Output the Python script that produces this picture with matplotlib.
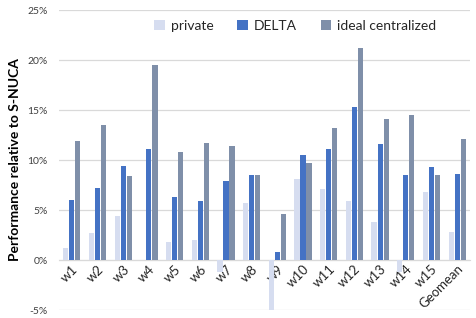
import matplotlib
matplotlib.use("Agg")
import matplotlib.pyplot as plt
import numpy as np

categories = ["w1", "w2", "w3", "w4", "w5", "w6", "w7", "w8", "w9", "w10",
              "w11", "w12", "w13", "w14", "w15", "Geomean"]
private = [1.2, 2.7, 4.4, 0.0, 1.8, 2.0, -1.2, 5.7, -5.0, 8.1,
           7.1, 5.9, 3.8, -1.2, 6.8, 2.8]
delta = [6.0, 7.2, 9.4, 11.1, 6.3, 5.9, 7.9, 8.5, 0.8, 10.5,
         11.1, 15.3, 11.6, 8.5, 9.3, 8.6]
ideal = [11.9, 13.5, 8.4, 19.5, 10.8, 11.7, 11.4, 8.5, 4.6, 9.7,
         13.2, 21.2, 14.1, 14.5, 8.5, 12.1]
yticks = [-5, 0, 5, 10, 15, 20, 25]

plt.rcParams['font.family'] = ['Lato', 'DejaVu Sans']

fig = plt.figure(figsize=(4.77, 3.18), dpi=100)
ax = fig.add_axes([59/477, 1-310/318, (470-59)/477, 300/318])

x = np.arange(len(categories))
w = 0.2
off = 0.235
ax.bar(x - off, private, w, color="#D6DDF0", label="private", zorder=3)
ax.bar(x, delta, w, color="#4472C4", label="DELTA", zorder=3)
ax.bar(x + off, ideal, w, color="#7F8FA9", label="ideal centralized", zorder=3)

ax.set_xlim(-0.5, len(categories) - 0.5)
ax.set_ylim(-5, 25)
ax.set_yticks(yticks)
ax.set_yticklabels([f"{v}%" for v in yticks], fontsize=7.5, color="#404040")
ax.yaxis.grid(True, color="#D9D9D9", linewidth=0.9, zorder=0)
for s in ["top", "right", "left"]:
    ax.spines[s].set_visible(False)
ax.spines["bottom"].set_position(("data", 0))
ax.spines["bottom"].set_color("#D9D9D9")
ax.spines["bottom"].set_zorder(2)
ax.tick_params(axis="y", length=0, pad=8)
ax.tick_params(axis="x", length=0, pad=2)
ax.set_xticks(x)
ax.set_xticklabels(categories, rotation=45, ha="right", rotation_mode="anchor",
                   fontsize=9.5, color="#262626")

ax.set_ylabel("Performance relative to S-NUCA", fontsize=10, fontweight="bold",
              labelpad=5)

leg = ax.legend(loc="upper center", bbox_to_anchor=(0.575, 1.01), ncol=3,
                frameon=False, fontsize=10, handlelength=0.75, handleheight=0.75,
                handletextpad=0.45, columnspacing=1.7)
for t in leg.get_texts():
    t.set_color("#262626")

fig.savefig("out.png", dpi=100)
